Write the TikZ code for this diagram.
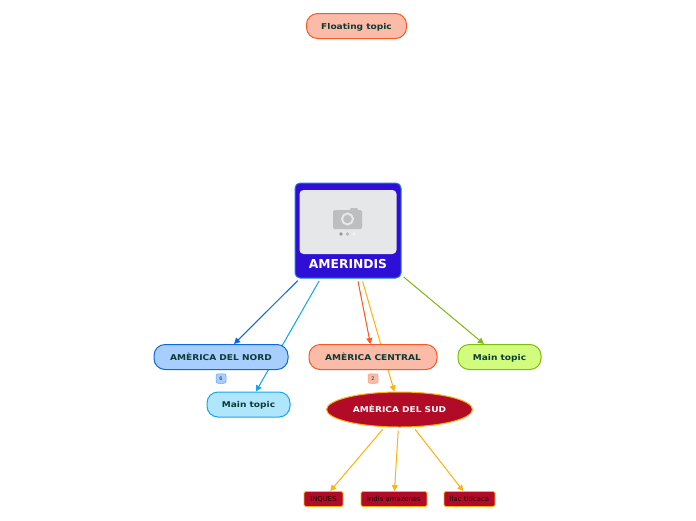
\documentclass[tikz,border=0pt]{standalone}
\usepackage{fontspec}
\setmainfont{DejaVu Sans}
\newfontfamily\widefont[FakeStretch=1.13]{DejaVu Sans}
\usetikzlibrary{arrows.meta,shapes.geometric,backgrounds}
\definecolor{ink}{HTML}{0B3B33}
\definecolor{rootfill}{HTML}{2E0FD6}
\definecolor{rootline}{HTML}{1C7FE6}
\definecolor{nordfill}{HTML}{A8CDFF}
\definecolor{nordline}{HTML}{0A68E0}
\definecolor{skyfill}{HTML}{B0E6FC}
\definecolor{skyline}{HTML}{10A8EC}
\definecolor{salmonfill}{HTML}{FBBBA9}
\definecolor{salmonline}{HTML}{F85A24}
\definecolor{limefill}{HTML}{D2FC7E}
\definecolor{limeline}{HTML}{80BC10}
\definecolor{redfill}{HTML}{B10B28}
\definecolor{amber}{HTML}{FFB30F}
\definecolor{camgrey}{HTML}{BDBEC0}
\definecolor{imgbg}{HTML}{E6E7E9}
\tikzset{
  topicbox/.style={draw,line width=1pt,rounded corners=11pt,minimum height=25pt,inner sep=0pt,
    text height=7pt,text depth=0.5pt,text=ink,font=\widefont\bfseries\fontsize{8}{9}\selectfont},
  leafbox/.style={draw=amber,fill=redfill,line width=0.8pt,rounded corners=1.5pt,minimum height=15pt,inner sep=0pt,
    text height=6pt,text depth=1pt,text=black!85!redfill,font=\fontsize{6.9}{8}\selectfont},
  badge/.style={draw,line width=0.5pt,rounded corners=2pt,minimum width=10pt,minimum height=9.5pt,inner sep=0pt,
    text=ink,font=\fontsize{5}{6}\selectfont},
  link/.style={line width=1pt,-{Triangle[length=6pt,width=6pt]},shorten <=3pt,shorten >=0pt},
}
\begin{document}
\begin{tikzpicture}[x=1pt,y=-1pt]
\useasboundingbox (0,0) rectangle (696,520);

\node[topicbox,draw=salmonline,fill=salmonfill,minimum width=100pt] (float) at (356.5,26) {Floating topic};

\node[draw=rootline,fill=rootfill,line width=1pt,rounded corners=5pt,minimum width=106pt,minimum height=95pt,inner sep=0pt] (root) at (348,230.5) {};
\node[fill=imgbg,rounded corners=4pt,minimum width=97pt,minimum height=64pt,inner sep=0pt] (photo) at (348,222) {};
\fill[camgrey,rounded corners=1.5pt] (333,210) rectangle (362,229);
\fill[camgrey,rounded corners=1pt] (350,208) rectangle (358,212);
\draw[imgbg,line width=2pt,fill=camgrey] (347.5,219) circle (5.5);
\fill[gray!80] (341,234) circle (1.8);
\fill[gray!55] (347.5,234) circle (1.8);
\fill[gray!12] (354,234) circle (1.8);
\node[text=white,font=\bfseries\fontsize{12.3}{14}\selectfont,inner sep=0pt] (rootlabel) at (348,264) {AMERINDIS};

\node[topicbox,draw=nordline,fill=nordfill,minimum width=134pt] (nord) at (221,357) {AMÈRICA DEL NORD};
\node[topicbox,draw=skyline,fill=skyfill,minimum width=83pt] (sky) at (248.5,404.5) {Main topic};
\node[topicbox,draw=salmonline,fill=salmonfill,minimum width=128pt] (central) at (373,357) {AMÈRICA CENTRAL};
\node[topicbox,draw=limeline,fill=limefill,minimum width=83pt] (lime) at (499.5,357) {Main topic};

\node[badge,draw=nordline!60,fill=nordfill] (b6) at (221,378.5) {6};
\node[badge,draw=salmonline!60,fill=salmonfill] (b2) at (373,378.5) {2};

\node[ellipse,draw=amber,fill=redfill,line width=1pt,minimum width=146pt,minimum height=35pt,inner sep=0pt,
  text height=7pt,text depth=1pt,text=white,font=\widefont\bfseries\fontsize{8}{9}\selectfont] (sud) at (399.5,409.5) {AMÈRICA DEL SUD};

\node[leafbox,minimum width=39pt] (inques) at (323.5,499) {INQUES};
\node[leafbox,minimum width=66pt] (indis) at (394,499) {indis amazones};
\node[leafbox,minimum width=51pt] (llac) at (469.5,499) {llac titicaca};

\begin{scope}[on background layer]
\fill[white] (0,0) rectangle (696,520);
\draw[link,draw=nordline,fill=nordline] (root) -- (nord);
\draw[link,draw=skyline,fill=skyline] (root) -- (sky);
\draw[link,draw=salmonline,fill=salmonline] (root) -- (central);
\draw[link,draw=amber,fill=amber] (root) -- (sud);
\draw[link,draw=limeline,fill=limeline] (root) -- (lime);
\draw[link,draw=amber,fill=amber] (sud) -- (inques);
\draw[link,draw=amber,fill=amber] (sud) -- (indis);
\draw[link,draw=amber,fill=amber] (sud) -- (llac);
\end{scope}
\end{tikzpicture}
\end{document}
